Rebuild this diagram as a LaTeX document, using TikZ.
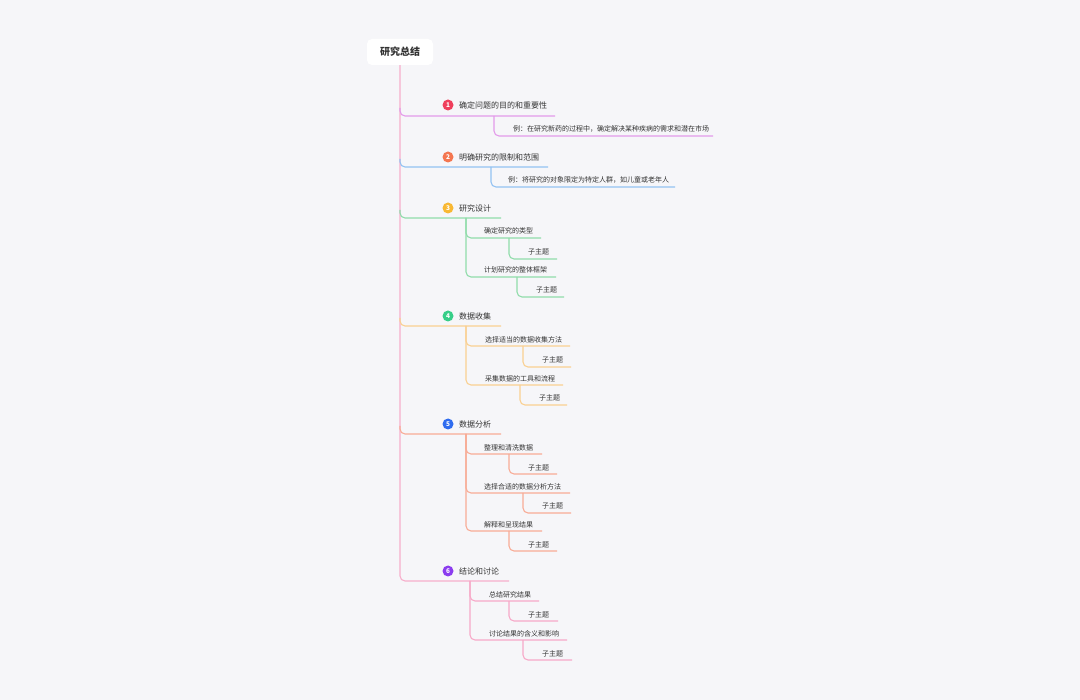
\documentclass[tikz,border=0pt]{standalone}
\usepackage{fontspec}
\setmainfont{Noto Sans CJK SC}
\definecolor{bgc}{HTML}{F6F6F9}
\definecolor{txt}{HTML}{333333}
\definecolor{trunkc}{HTML}{F7AECB}
\definecolor{cA}{HTML}{E39BEA}
\definecolor{cB}{HTML}{93C2F2}
\definecolor{cC}{HTML}{90DCAA}
\definecolor{cD}{HTML}{FAD092}
\definecolor{cE}{HTML}{F8AC96}
\definecolor{cF}{HTML}{F7A9C8}
\definecolor{bA}{HTML}{EF3F5C}
\definecolor{bB}{HTML}{F47650}
\definecolor{bC}{HTML}{F8B834}
\definecolor{bD}{HTML}{36CE88}
\definecolor{bE}{HTML}{2F6CEF}
\definecolor{bF}{HTML}{8B3CEF}
\begin{document}
\begin{tikzpicture}[x=1pt,y=-1pt,
  rootbox/.style={fill=white, rounded corners=5pt, minimum width=66pt, minimum height=26pt, inner sep=0pt, font=\fontsize{10}{12}\selectfont\bfseries, text=txt},
  badge/.style={circle, inner sep=0pt, minimum size=11pt, text=white, font=\fontsize{6.5}{7}\selectfont\bfseries},
  ttext/.style={anchor=west, inner sep=0pt, text=txt, font=\fontsize{8}{9}\selectfont},
  ctext/.style={anchor=west, inner sep=0pt, text=txt, font=\fontsize{7}{8}\selectfont},
  conn/.style={line width=1.1pt, rounded corners=5pt}
]
\fill[bgc] (0,0) rectangle (1080,700);
\useasboundingbox (0,0) rectangle (1080,700);

\node[rootbox] (root) at (400,52) {研究总结};

% trunk
\coordinate (tend) at (509,581);
\draw[conn, trunkc] (root.south) |- (tend);

% ---------- topic 1
\node[badge, fill=bA] (b1) at (448,105) {1};
\node[ttext] (t1) at (459,105) {确定问题的目的和重要性};
\coordinate (l1) at (555,116);
\draw[conn, cA] (400,108) |- (l1);
\node[ctext] (s1) at (513,129) {例：在研究新药的过程中，确定解决某种疾病的需求和潜在市场};
\coordinate (l1s) at (713,136);
\draw[conn, cA] (494,116) |- (l1s);

% ---------- topic 2
\node[badge, fill=bB] (b2) at (448,157) {2};
\node[ttext] (t2) at (459,157) {明确研究的限制和范围};
\coordinate (l2) at (548,167);
\draw[conn, cB] (400,159) |- (l2);
\node[ctext] (s2) at (508,180) {例：将研究的对象限定为特定人群，如儿童或老年人};
\coordinate (l2s) at (675,187);
\draw[conn, cB] (491,167) |- (l2s);

% ---------- topic 3
\node[badge, fill=bC] (b3) at (448,208) {3};
\node[ttext] (t3) at (459,208) {研究设计};
\coordinate (l3) at (501,218);
\draw[conn, cC] (400,210) |- (l3);
\node[ctext] (c31) at (484,231) {确定研究的类型};
\coordinate (l31) at (541,238);
\draw[conn, cC] (466,218) |- (l31);
\node[ctext] (g31) at (528,252) {子主题};
\coordinate (m31) at (557,259);
\draw[conn, cC] (509,238) |- (m31);
\node[ctext] (c32) at (484,270) {计划研究的整体框架};
\coordinate (l32) at (556,277);
\draw[conn, cC] (466,218) |- (l32);
\node[ctext] (g32) at (536,290) {子主题};
\coordinate (m32) at (564,297);
\draw[conn, cC] (517,277) |- (m32);

% ---------- topic 4
\node[badge, fill=bD] (b4) at (448,316) {4};
\node[ttext] (t4) at (459,316) {数据收集};
\coordinate (l4) at (501,326);
\draw[conn, cD] (400,318) |- (l4);
\node[ctext] (c41) at (485,339.5) {选择适当的数据收集方法};
\coordinate (l41) at (570,346);
\draw[conn, cD] (466,326) |- (l41);
\node[ctext] (g41) at (542,360) {子主题};
\coordinate (m41) at (571,367);
\draw[conn, cD] (523,346) |- (m41);
\node[ctext] (c42) at (485,378.5) {采集数据的工具和流程};
\coordinate (l42) at (563,385);
\draw[conn, cD] (466,326) |- (l42);
\node[ctext] (g42) at (539,398) {子主题};
\coordinate (m42) at (567,405);
\draw[conn, cD] (520,385) |- (m42);

% ---------- topic 5
\node[badge, fill=bE] (b5) at (448,424) {5};
\node[ttext] (t5) at (459,424) {数据分析};
\coordinate (l5) at (501,434);
\draw[conn, cE] (400,426) |- (l5);
\node[ctext] (c51) at (484,447.5) {整理和清洗数据};
\coordinate (l51) at (542,454);
\draw[conn, cE] (466,434) |- (l51);
\node[ctext] (g51) at (528,468) {子主题};
\coordinate (m51) at (557,474);
\draw[conn, cE] (509,454) |- (m51);
\node[ctext] (c52) at (484,486.5) {选择合适的数据分析方法};
\coordinate (l52) at (570,493);
\draw[conn, cE] (466,434) |- (l52);
\node[ctext] (g52) at (542,506) {子主题};
\coordinate (m52) at (571,513);
\draw[conn, cE] (523,493) |- (m52);
\node[ctext] (c53) at (484,525) {解释和呈现结果};
\coordinate (l53) at (542,531);
\draw[conn, cE] (466,434) |- (l53);
\node[ctext] (g53) at (528,545) {子主题};
\coordinate (m53) at (557,551);
\draw[conn, cE] (509,531) |- (m53);

% ---------- topic 6
\node[badge, fill=bF] (b6) at (448,571) {6};
\node[ttext] (t6) at (459,571) {结论和讨论};
\node[ctext] (c61) at (489,594.5) {总结研究结果};
\coordinate (l61) at (539,601);
\draw[conn, cF] (470,581) |- (l61);
\node[ctext] (g61) at (528,614.5) {子主题};
\coordinate (m61) at (558,621);
\draw[conn, cF] (509,601) |- (m61);
\node[ctext] (c62) at (489,633.5) {讨论结果的含义和影响};
\coordinate (l62) at (567,640);
\draw[conn, cF] (470,581) |- (l62);
\node[ctext] (g62) at (542,653.5) {子主题};
\coordinate (m62) at (572,660);
\draw[conn, cF] (523,640) |- (m62);
\end{tikzpicture}
\end{document}
